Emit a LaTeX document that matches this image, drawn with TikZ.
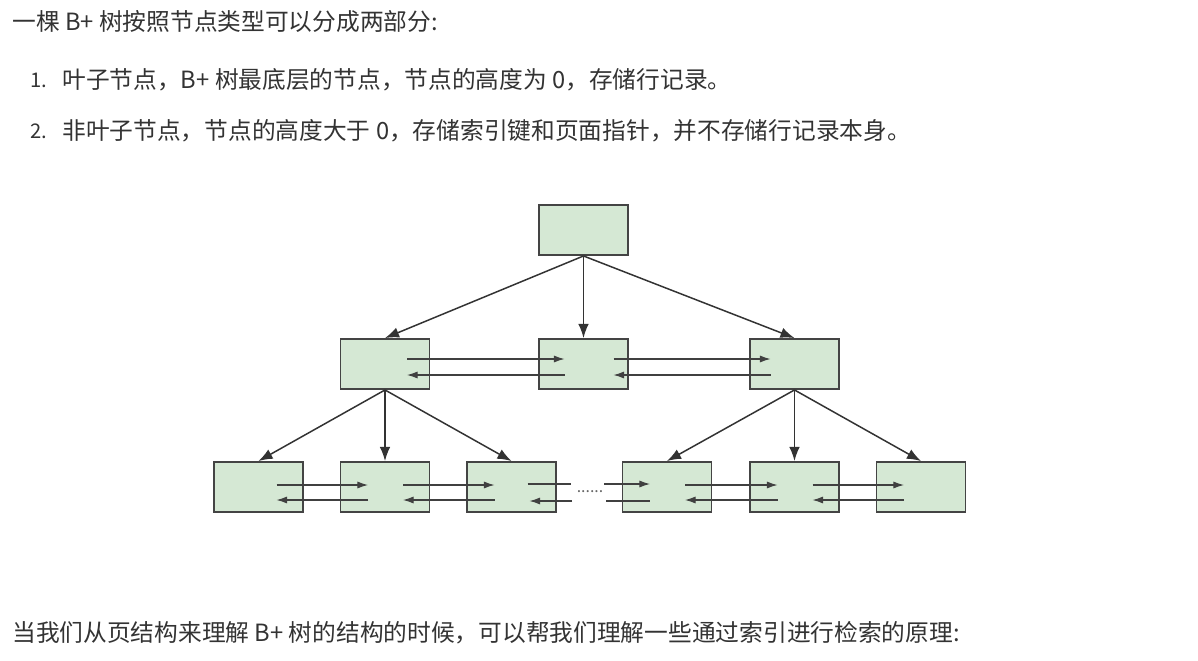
\documentclass[tikz,border=0pt]{standalone}
\usepackage{fontspec}
\setmainfont{Noto Sans CJK SC}
\usetikzlibrary{positioning, calc, arrows.meta}
\definecolor{pagefill}{HTML}{D5E8D4}
\definecolor{pageline}{HTML}{444444}
\definecolor{inktext}{HTML}{333333}

\begin{document}
\begin{tikzpicture}[x=0.02cm, y=-0.02cm,
    page/.style={draw=pageline, line width=1.1pt, fill=pagefill,
      minimum width=1.78cm, minimum height=1cm, inner sep=0pt},
    down/.style={draw=black!80, line width=0.85pt, -{Latex[length=8pt,width=6pt]}},
    link/.style={draw=black!75, line width=0.6pt, -{Latex[length=6pt,width=4pt]}},
    plain/.style={draw=black!75, line width=0.6pt},
    txt/.style={anchor=west, inner sep=0pt, text=inktext, font=\fontsize{13.5}{16}\selectfont}]
    \useasboundingbox (0,0) rectangle (1198,660);
    % Texte
    \node[txt] (intro) at (12,22) {一棵 B+ 树按照节点类型可以分成两部分:};
    \node[txt, font=\fontsize{11.5}{14}\selectfont] (n1) at (30,80) {1.};
    \node[txt] (item1) at (62,80) {叶子节点，B+ 树最底层的节点，节点的高度为 0，存储行记录。};
    \node[txt, font=\fontsize{11.5}{14}\selectfont] (n2) at (30,131) {2.};
    \node[txt] (item2) at (62,131) {非叶子节点，节点的高度大于 0，存储索引键和页面指针，并不存储行记录本身。};
    \node[txt] (outro) at (12,633) {当我们从页结构来理解 B+ 树的结构的时候，可以帮我们理解一些通过索引进行检索的原理:};
    % Pagini
    \node[page] (root) at (583.5,230) {};
    \foreach \n/\x in {m1/385, m2/583.5, m3/794.5} {
      \node[page] (\n) at (\x,364) {};
    }
    \foreach \n/\x in {l1/258.5, l2/385, l3/511.5, l4/667, l5/794.5, l6/921} {
      \node[page] (\n) at (\x,487) {};
    }
    \node[inner sep=0pt, text=black!60, font=\fontsize{9}{10}\selectfont] (dots) at (590,492) {......};
    % Sageti in jos
    \foreach \c in {m1, m2, m3} {
      \draw[down] (root.south) -- (\c.north);
    }
    \foreach \c in {l1, l2, l3} {
      \draw[down] (m1.south) -- (\c.north);
    }
    \foreach \c in {l4, l5, l6} {
      \draw[down] (m3.south) -- (\c.north);
    }
    % Legaturi intre pagini
    \foreach \a/\b/\s/\e in {m1/m2/22/-19, m2/m3/30/-24} {
      \draw[link] ($(\a)+(\s,-5)$) -- ($(\b)+(\e,-5)$);
      \draw[link] ($(\b)+(\e,11)$) -- ($(\a)+(\s,11)$);
    }
    \foreach \a/\b in {l1/l2, l2/l3, l4/l5, l5/l6} {
      \draw[link] ($(\a)+(18,-2)$) -- ($(\b)+(-17,-2)$);
      \draw[link] ($(\b)+(-17,13)$) -- ($(\a)+(18,13)$);
    }
    \draw[plain] ($(l3)+(16,-3)$) -- ($(dots)+(-19,-8)$);
    \draw[link] ($(dots)+(-18,9)$) -- ($(l3)+(18,14)$);
    \draw[link] ($(dots)+(14,-8)$) -- ($(l4)+(-17,-3)$);
    \draw[plain] ($(dots)+(16,9)$) -- ($(l4)+(-17,14)$);
\end{tikzpicture}
\end{document}
